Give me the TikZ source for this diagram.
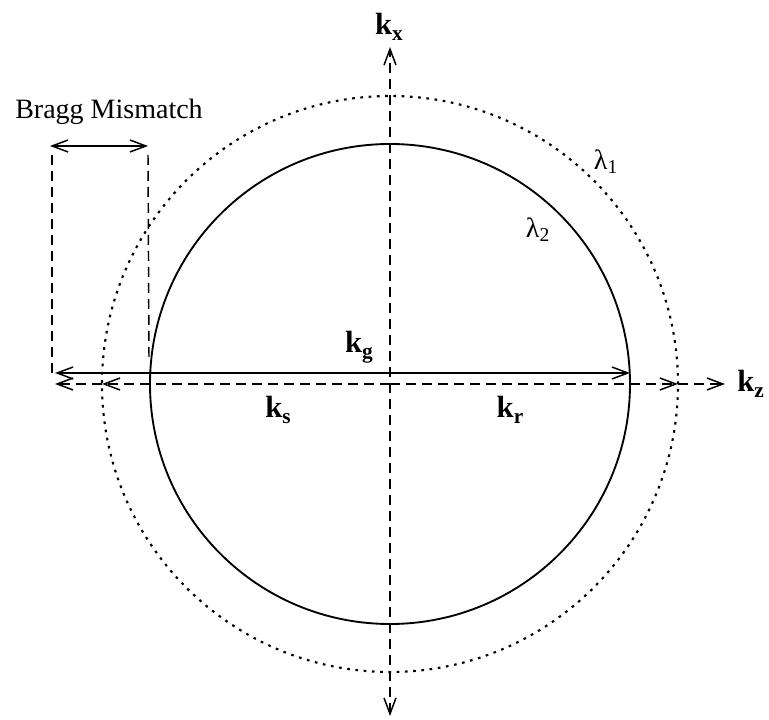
\documentclass[tikz,border=0pt]{standalone}
\usepackage{fontspec}
\setmainfont{Liberation Serif}
\usetikzlibrary{arrows.meta}
\newcommand{\kvec}[1]{\textbf{k}\raisebox{-0.45ex}{\fontsize{16}{16}\selectfont\bfseries #1}}
\tikzset{
  x=0.75pt, y=-0.75pt,
  barb/.style={-{Straight Barb[length=12pt,width=9pt,line width=1.1pt]}},
  dbarb/.style={{Straight Barb[length=12pt,width=9pt,line width=1.1pt]}-{Straight Barb[length=12pt,width=9pt,line width=1.1pt]}},
  axisline/.style={line width=1.1pt, dash pattern=on 7.5pt off 4.5pt},
  dotline/.style={line width=1.6pt, dash pattern=on 2pt off 4.2pt},
  solidline/.style={line width=1.4pt},
  lab/.style={font=\fontsize{21}{21}\selectfont, inner sep=0pt},
  klab/.style={font=\fontsize{23}{23}\selectfont, inner sep=0pt},
}
\begin{document}
\begin{tikzpicture}
\useasboundingbox (0,0) rectangle (769,720);
% centre and named points
\coordinate (O) at (390,384);
\coordinate (xtop) at (390,47);
\coordinate (xbot) at (390,716);
\coordinate (zl) at (55,384);
\coordinate (zr) at (725,384);
\coordinate (ksend) at (102,384);
\coordinate (krend) at (678,384);
\coordinate (kgl) at (55,373);
\coordinate (kgr) at (630,373);
\coordinate (bl) at (50,146);
\coordinate (br) at (148,146);
\coordinate (vlt) at (52,155);
\coordinate (vlb) at (52,373);
\coordinate (vrt) at (148,155);
\coordinate (vrb) at (149,357);
% circles
\node[circle, draw, solidline, minimum size=360pt, inner sep=0pt] (c2) at (O) {};
\node[circle, draw, dotline, minimum size=432pt, inner sep=0pt] (c1) at (O) {};
% axes
\draw[axisline, dbarb] (xbot) -- (xtop);
\draw[axisline, barb] (O) -- (ksend);
\draw[axisline, barb] (ksend) -- (zl);
\draw[axisline, barb] (O) -- (krend);
\draw[axisline, barb] (krend) -- (zr);
% k_g
\draw[solidline, dbarb] (kgl) -- (kgr);
% Bragg mismatch
\draw[solidline, dbarb] (bl) -- (br);
\draw[axisline] (vlt) -- (vlb);
\draw[axisline] (vrt) -- (vrb);
% labels
\node[lab] (tb) at (109,112) {Bragg Mismatch};
\node[klab] (tkx) at (389,27) {\kvec{x}};
\node[klab, anchor=west] (tkz) at (737,384) {\kvec{z}};
\node[klab] (tkg) at (359,347) {\kvec{g}};
\node[klab] (tks) at (278,410) {\kvec{s}};
\node[klab] (tkr) at (510,410) {\kvec{r}};
\node[lab] (tl1) at (606,162) {λ\textsubscript{1}};
\node[lab] (tl2) at (538,230) {λ\textsubscript{2}};
\end{tikzpicture}
\end{document}
